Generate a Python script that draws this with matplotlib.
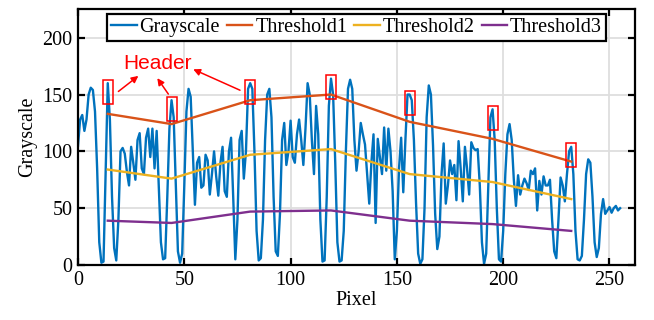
import matplotlib.pyplot as plt
from matplotlib.patches import Rectangle

# grayscale profile along the row (pixel 0..255)
gray = [105, 128, 132, 118, 128, 150, 156, 154, 135, 85,
        20, 2, 3, 80, 160, 128, 60, 15, 4, 40,
        100, 103, 98, 82, 70, 104, 90, 75, 110, 116,
        85, 80, 112, 120, 95, 120, 85, 118, 70, 20,
        5, 6, 60, 120, 145, 130, 70, 12, 2, 10,
        70, 135, 155, 148, 100, 53, 90, 95, 68, 70,
        97, 92, 62, 80, 100, 78, 61, 90, 104, 65,
        60, 100, 112, 60, 5, 40, 110, 118, 76, 100,
        155, 160, 155, 100, 30, 4, 6, 40, 110, 150,
        155, 130, 60, 12, 8, 45, 110, 125, 88, 100,
        127, 95, 90, 115, 128, 110, 88, 120, 160, 150,
        110, 80, 140, 115, 40, 3, 4, 60, 140, 164,
        150, 90, 20, 3, 4, 30, 100, 155, 163, 155,
        110, 83, 100, 125, 115, 106, 80, 54, 90, 115,
        37, 111, 95, 80, 121, 83, 120, 100, 65, 5,
        30, 85, 112, 64, 110, 150, 150, 145, 110, 55,
        10, 1, 5, 50, 130, 158, 150, 105, 45, 14,
        25, 80, 107, 54, 70, 92, 80, 88, 57, 109,
        85, 56, 104, 85, 62, 108, 103, 101, 102, 70,
        20, 1, 10, 70, 130, 137, 110, 50, 5, 3,
        30, 80, 115, 124, 110, 75, 52, 79, 62, 70,
        76, 72, 66, 83, 80, 85, 48, 74, 62, 78,
        70, 70, 75, 40, 12, 6, 40, 77, 70, 56,
        80, 100, 104, 80, 30, 5, 4, 8, 40, 80,
        93, 90, 60, 20, 7, 15, 45, 58, 45, 48,
        51, 46, 50, 52, 48, 50]

# header positions and thresholds
header_x = [14, 44, 81, 119, 156, 195, 232]
thr1 = [133, 124, 145, 150, 126, 111, 91]
thr2 = [84, 76, 97, 102, 80, 73, 58]
thr3 = [39, 37, 47, 48, 39, 36, 30]

# boxes marked on the header peaks
box_peaks = [160, 145, 160, 164, 150, 137, 104]

plt.rcParams['font.family'] = 'Liberation Serif'
plt.rcParams['font.size'] = 14.5

fig = plt.figure(figsize=(6.54, 3.2), dpi=100)
ax = fig.add_axes([78 / 654, 1 - 265 / 320, 557 / 654, 255.7 / 320])

ax.plot(range(len(gray)), gray, color='#0072BD', lw=1.7, label='Grayscale')
ax.plot(header_x, thr1, color='#D95319', lw=1.7, label='Threshold1')
ax.plot(header_x, thr2, color='#EDB120', lw=1.7, label='Threshold2')
ax.plot(header_x, thr3, color='#7E2F8E', lw=1.7, label='Threshold3')

for hx, pk in zip(header_x, box_peaks):
    ax.add_patch(Rectangle((hx - 2.35, pk - 18), 4.7, 21, fill=False,
                           edgecolor='red', lw=1.1, zorder=5))

ax.text(37.4, 177, 'Header', color='red', fontsize=15, family='Liberation Sans',
        ha='center', va='center')
arrows = [((19, 152.7), (28.4, 166.4)),
          ((42.5, 150.4), (37.3, 164.4)),
          ((76.2, 153.8), (54.2, 172.2))]
for tail, head in arrows:
    ax.annotate('', xy=head, xytext=tail,
                arrowprops=dict(arrowstyle='-|>', color='red', lw=1.1,
                                mutation_scale=10, shrinkA=0, shrinkB=0))

ax.set_xlim(0, 262)
ax.set_ylim(0, 225)
ax.set_xticks([0, 50, 100, 150, 200, 250])
ax.set_yticks([0, 50, 100, 150, 200])
ax.grid(True, color='#dedede', lw=1.3)
ax.set_axisbelow(True)
ax.tick_params(direction='in', length=5, width=1.6, top=True, right=True, pad=4)
for s in ax.spines.values():
    s.set_linewidth(1.6)
ax.set_xlabel('Pixel', labelpad=1)
ax.set_ylabel('Grayscale', labelpad=4)

leg = ax.legend(loc='upper center', ncol=4, handlelength=1.25, handletextpad=0.15,
                columnspacing=0.35, borderpad=0.2, borderaxespad=0.25,
                fancybox=False, framealpha=1)
leg.get_frame().set_edgecolor('black')
leg.get_frame().set_linewidth(1.6)

fig.savefig('out.png', dpi=100)
